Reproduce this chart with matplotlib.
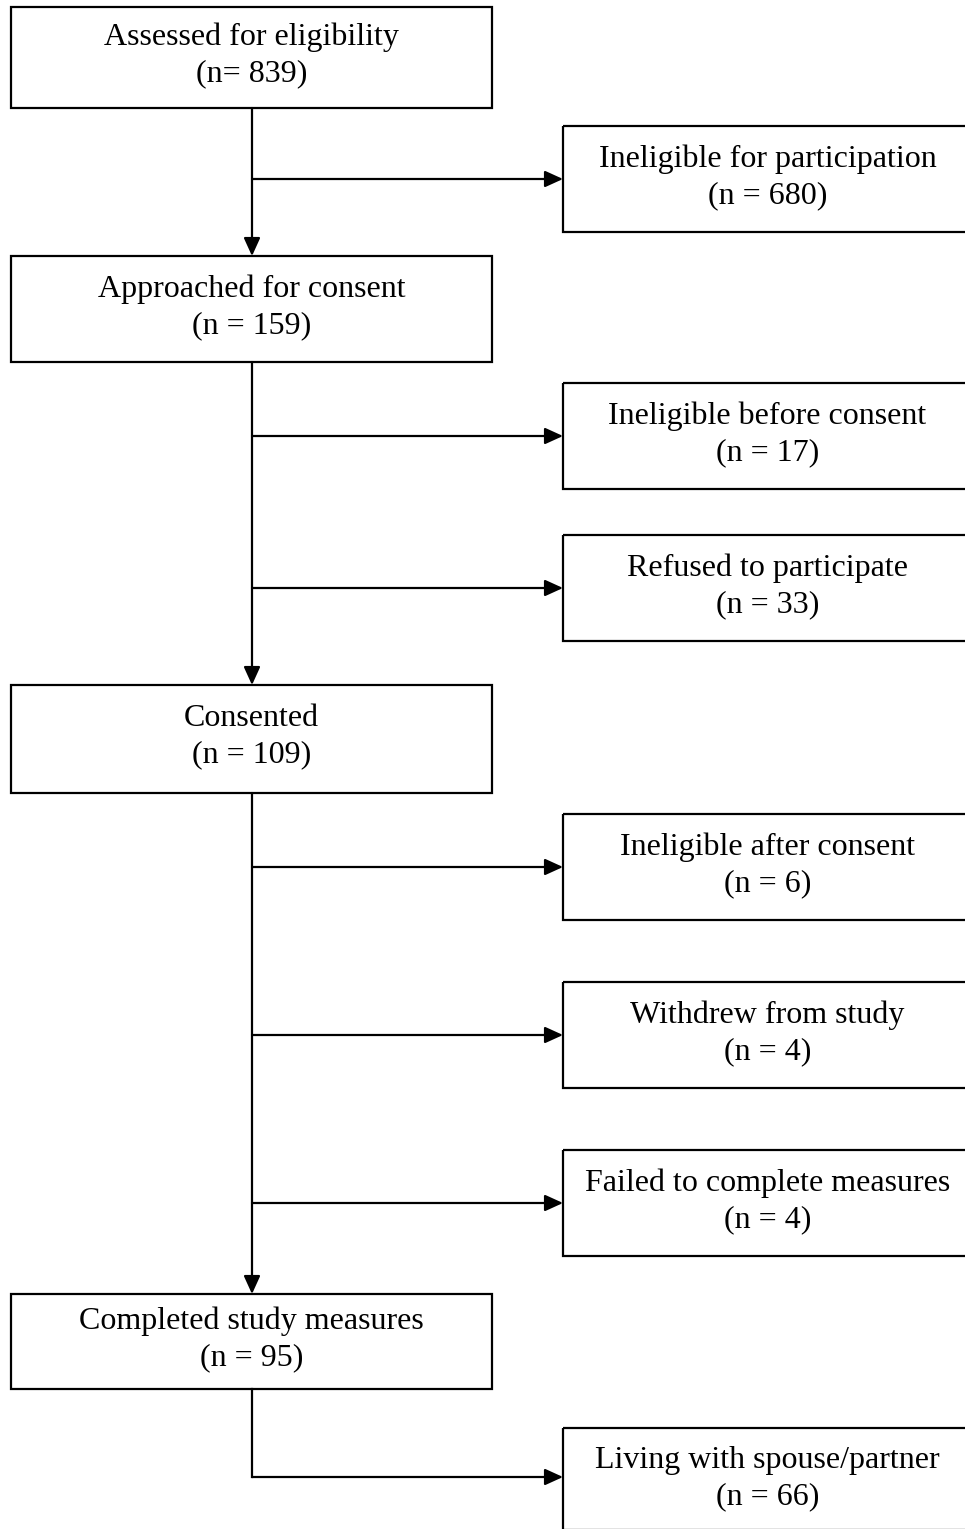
import matplotlib
matplotlib.use("Agg")
import matplotlib.pyplot as plt
from matplotlib.patches import Rectangle

# ---- data ----
main_labels = ["Assessed for eligibility", "Approached for consent", "Consented", "Completed study measures"]
main_counts = ["(n= 839)", "(n = 159)", "(n = 109)", "(n = 95)"]
side_labels = ["Ineligible for participation", "Ineligible before consent", "Refused to participate",
               "Ineligible after consent", "Withdrew from study", "Failed to complete measures",
               "Living with spouse/partner"]
side_counts = ["(n = 680)", "(n = 17)", "(n = 33)", "(n = 6)", "(n = 4)", "(n = 4)", "(n = 66)"]

# ---- layout (pixels) ----
W, H = 965, 1529
main_x0, main_x1 = 11, 492
side_x0, side_x1 = 563, 972
main_y = [(7, 108), (256, 362), (685, 793), (1294, 1389)]
side_y = [(126, 232), (383, 489), (535, 641), (814, 920), (982, 1088), (1150, 1256), (1428, 1530)]
spine_x = 252

fig = plt.figure(figsize=(W / 100, H / 100), dpi=100)
ax = fig.add_axes([0, 0, 1, 1])
ax.set_xlim(0, W)
ax.set_ylim(H, 0)
ax.axis("off")

font = dict(family=["Liberation Serif", "DejaVu Serif"], fontsize=23, color="black")
lw = 1.6
ls = 1.32

def box(x0, x1, y0, y1, text, yc=None):
    ax.add_patch(Rectangle((x0, y0), x1 - x0, y1 - y0, fill=False, edgecolor="black", lw=lw, clip_on=True))
    if yc is None:
        yc = (y0 + y1) / 2
    ax.text((x0 + x1) / 2, yc - 2, text, ha="center", va="center",
            linespacing=ls, **font)

for (y0, y1), lab, cnt in zip(main_y, main_labels, main_counts):
    box(main_x0, main_x1, y0, y1, lab + "\n" + cnt)

for (y0, y1), lab, cnt in zip(side_y, side_labels, side_counts):
    yc = (y0 + y1) / 2 if y1 < H else y0 + 53
    box(side_x0, side_x1, y0, y1, lab + "\n" + cnt, yc)

arrow = dict(arrowstyle="-|>,head_length=0.55,head_width=0.25", color="black", lw=lw,
             shrinkA=0, shrinkB=0, mutation_scale=20)

def arr(x0, y0, x1, y1):
    ax.annotate("", xy=(x1, y1), xytext=(x0, y0), arrowprops=arrow)

# vertical spine arrows between main boxes
for i in range(len(main_y) - 1):
    arr(spine_x, main_y[i][1], spine_x, main_y[i + 1][0])

# side arrows
for (y0, y1) in side_y[:-1]:
    yc = (y0 + y1) / 2
    arr(spine_x, yc, side_x0, yc)

# last elbow
last_y = side_y[-1][0] + 49
ax.plot([spine_x, spine_x], [main_y[-1][1], last_y], color="black", lw=lw, solid_capstyle="projecting")
arr(spine_x, last_y, side_x0, last_y)

fig.savefig("out.png", dpi=100, facecolor="white")
